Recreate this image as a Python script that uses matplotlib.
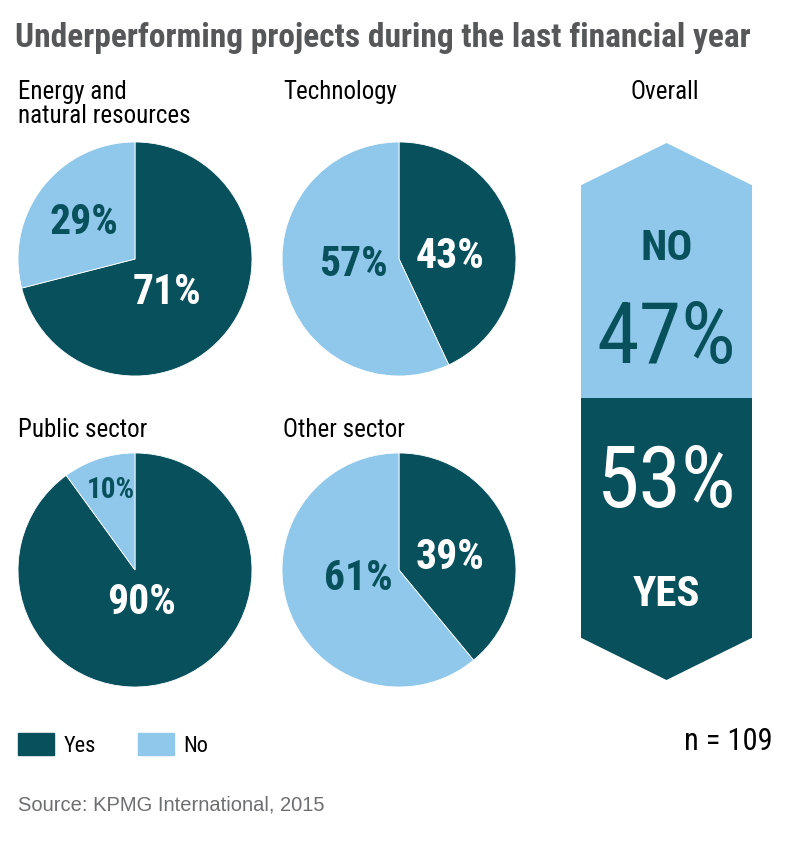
import matplotlib
matplotlib.use("Agg")
import matplotlib.pyplot as plt
from matplotlib.patches import Patch, Polygon

# data
sectors = ["Energy and\nnatural resources", "Technology", "Public sector", "Other sector"]
yes_share = [71, 43, 90, 39]
no_share = [29, 57, 10, 61]
overall_yes = 53
overall_no = 47
sample_size = 109

DARK = "#07505c"
LIGHT = "#8fc8ea"
W, H = 800, 849
NARROW = ["Liberation Sans Narrow", "Roboto Condensed", "Roboto", "DejaVu Sans"]

plt.rcParams["font.family"] = NARROW
plt.rcParams["font.stretch"] = "condensed"

fig = plt.figure(figsize=(W / 100, H / 100), dpi=100)


def box(x0, y0, w, h):
    # pixel box (top-left origin) -> figure fraction rect
    return [x0 / W, 1 - (y0 + h) / H, w / W, h / H]


# layout: pie centres (px), radius, label offsets (in radius units)
centres = [(135, 259), (399, 259), (135, 570), (399, 570)]
radius = 117
yes_pos = [(0.27, -0.29), (0.44, 0.02), (0.06, -0.28), (0.44, 0.11)]
no_pos = [(-0.44, 0.31), (-0.39, -0.05), (-0.21, 0.68), (-0.35, -0.07)]
title_pos = [(18, 80), (283, 80), (18, 418), (283, 418)]

for i in range(4):
    cx, cy = centres[i]
    ax = fig.add_axes(box(cx - radius, cy - radius, 2 * radius, 2 * radius))
    ax.pie([yes_share[i], no_share[i]], colors=[DARK, LIGHT], startangle=90,
           counterclock=False, radius=1,
           wedgeprops=dict(linewidth=0.6, edgecolor="white"))
    ax.set_xlim(-1, 1)
    ax.set_ylim(-1, 1)
    ax.set_aspect("auto")
    small = no_share[i] < 15
    ax.text(*yes_pos[i], f"{yes_share[i]}%", color="white", fontsize=30,
            fontweight="bold", ha="center", va="center")
    ax.text(*no_pos[i], f"{no_share[i]}%", color=DARK,
            fontsize=21 if small else 30, fontweight="bold",
            ha="center", va="center")
    fig.text(title_pos[i][0] / W, 1 - title_pos[i][1] / H, sectors[i],
             fontsize=18, va="top", ha="left", linespacing=1.02)

# overall banner as a stacked bar between the shoulders, with pointed ends
bx, bw = 581, 171
top_pt, top_sh, bot_sh, bot_pt = 143, 185, 635, 680
tip = (top_sh - top_pt) / (bot_sh - top_sh) * 100
bax = fig.add_axes(box(bx, top_pt, bw, bot_pt - top_pt))
bax.set_xlim(0, 1)
bax.set_ylim(-tip, 100 + tip)
bax.bar(0.5, overall_yes, width=1, color=DARK)
bax.bar(0.5, overall_no, bottom=overall_yes, width=1, color=LIGHT)
bax.add_patch(Polygon([(0, 100), (1, 100), (0.5, 100 + tip)], color=LIGHT, lw=0))
bax.add_patch(Polygon([(0, 0), (1, 0), (0.5, -tip)], color=DARK, lw=0))
bax.axis("off")
bax.text(0.5, 86, "NO", color=DARK, fontsize=31, fontweight="bold", ha="center", va="center")
bax.text(0.5, overall_yes + 13, f"{overall_no}%", color=DARK, fontsize=62,
         ha="center", va="center")
bax.text(0.5, overall_yes - 19, f"{overall_yes}%", color="white", fontsize=62,
         ha="center", va="center")
bax.text(0.5, 9.5, "YES", color="white", fontsize=31, fontweight="bold",
         ha="center", va="center")
fig.text(665 / W, 1 - 92 / H, "Overall", fontsize=18, ha="center", va="center")

# title, legend, notes
fig.text(15 / W, 1 - 38 / H, "Underperforming projects during the last financial year",
         fontsize=24, fontweight="bold", color="#555759", ha="left", va="center")
fig.legend(handles=[Patch(color=DARK, label="Yes"), Patch(color=LIGHT, label="No")],
           loc="center left", bbox_to_anchor=(18 / W, 1 - 745 / H), ncol=2,
           frameon=False, fontsize=16, handlelength=1.6, handleheight=1.1,
           columnspacing=1.9, handletextpad=0.45, borderpad=0, borderaxespad=0)
fig.text(773 / W, 1 - 741 / H, f"n = {sample_size}", fontsize=22, ha="right", va="center")
fig.text(18 / W, 1 - 805 / H, "Source: KPMG International, 2015", fontsize=14.5,
         color="#6d6e70", ha="left", va="center", family=["Liberation Sans", "DejaVu Sans"])

fig.savefig("out.png", dpi=100, facecolor="white")
